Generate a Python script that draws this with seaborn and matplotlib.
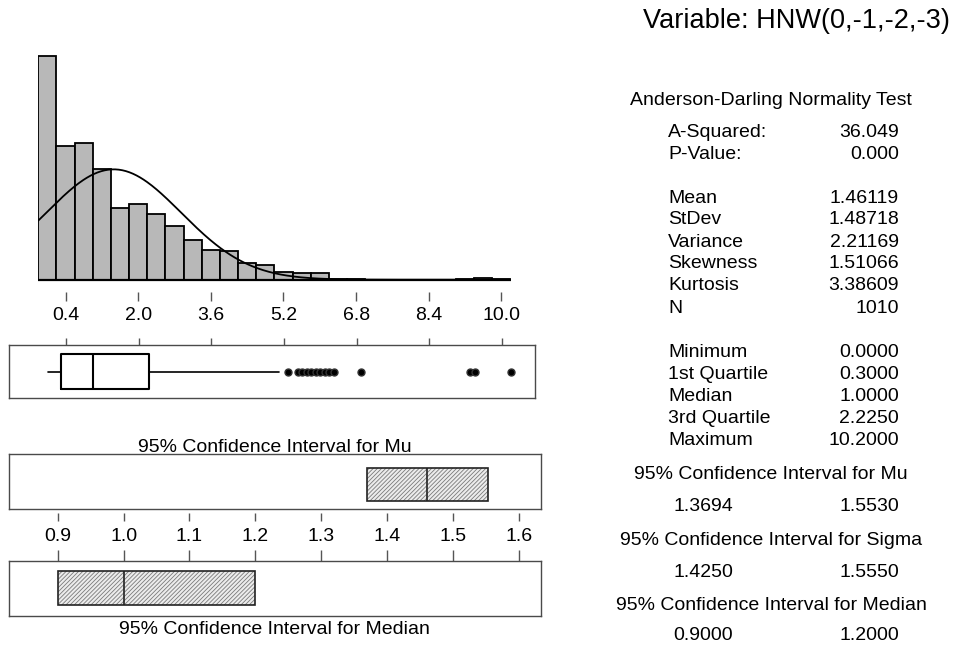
import numpy as np
import pandas as pd
import matplotlib
matplotlib.use("Agg")
import matplotlib.pyplot as plt
import seaborn as sns

# ---------------- data ----------------
bin_centers = [0.0, 0.4, 0.8, 1.2, 1.6, 2.0, 2.4, 2.8, 3.2, 3.6, 4.0, 4.4, 4.8,
               5.2, 5.6, 6.0, 6.4, 6.8, 7.2, 7.6, 8.0, 8.4, 8.8, 9.2, 9.6, 10.0]
bin_counts = [220, 131, 134, 109, 70, 74, 65, 53, 39, 29, 28, 16, 14,
              8, 7, 7, 1, 1, 0, 0, 0, 0, 0, 1, 2, 1]
bin_width = 0.4

n_obs = 1010
mean_val = 1.46119
sd_val = 1.48718

box_min = 0.0
box_q1 = 0.3
box_median = 1.0
box_q3 = 2.225
box_whisker_hi = 5.1
box_outliers = [5.3, 5.5, 5.6, 5.7, 5.8, 5.9, 6.0, 6.1, 6.2, 6.3, 6.9, 9.3, 9.4, 10.2]

scale_ticks = [0.4, 2.0, 3.6, 5.2, 6.8, 8.4, 10.0]
ci_ticks = [0.9, 1.0, 1.1, 1.2, 1.3, 1.4, 1.5, 1.6]

ci_mu = [1.3694, 1.5530]
ci_sigma = [1.4250, 1.5550]
ci_median = [0.9000, 1.2000]

title_text = "Variable: HNW(0,-1,-2,-3)"
test_title = "Anderson-Darling Normality Test"
stat_labels = ["A-Squared:", "P-Value:", "Mean", "StDev", "Variance", "Skewness",
               "Kurtosis", "N", "Minimum", "1st Quartile", "Median", "3rd Quartile",
               "Maximum"]
stat_values = ["36.049", "0.000", "1.46119", "1.48718", "2.21169", "1.51066",
               "3.38609", "1010", "0.0000", "0.3000", "1.0000", "2.2250", "10.2000"]

# ---------------- style ----------------
sns.set_style("white")
plt.rcParams["font.family"] = ["Liberation Sans", "DejaVu Sans"]
plt.rcParams["hatch.linewidth"] = 0.6
plt.rcParams["text.color"] = "black"
plt.rcParams["xtick.labelcolor"] = "black"

W, H = 963, 647
fig = plt.figure(figsize=(W / 100, H / 100), dpi=100)


def px_axes(x0, y0, x1, y1):
    """Axes from pixel box (left, top, right, bottom)."""
    return fig.add_axes([x0 / W, 1 - y1 / H, (x1 - x0) / W, (y1 - y0) / H])


def px_text(x, y, s, **kw):
    fig.text(x / W, 1 - y / H, s, color="black", **kw)


frame_color = "#4a4a4a"
tick_color = "#555555"
FS = 14

# ---------------- histogram ----------------
ax_h = px_axes(38.3, 50.0, 511.4, 291.7)
hist_df = pd.DataFrame({"value": bin_centers, "count": bin_counts})
sns.histplot(data=hist_df, x="value", weights="count", binwidth=bin_width,
             binrange=(-0.2, 10.2), ax=ax_h,
             color="#b8b8b8", edgecolor="black", linewidth=1.3, alpha=1.0)

xs = np.linspace(-0.2, 10.2, 400)
pdf = n_obs * bin_width * np.exp(-0.5 * ((xs - mean_val) / sd_val) ** 2) / (sd_val * np.sqrt(2 * np.pi))
sns.lineplot(x=xs, y=pdf, ax=ax_h, color="black", linewidth=1.3)
ax_h.axhline(0, color="black", linewidth=1.6)
ax_h.set_xlim(-0.2, 10.22)
ax_h.set_ylim(-11.8, 225.6)
ax_h.set_xlabel("")
ax_h.set_ylabel("")
ax_h.set_yticks([])
for s in ax_h.spines.values():
    s.set_visible(False)
ax_h.set_xticks(scale_ticks)
ax_h.tick_params(axis="x", bottom=True, direction="out", length=6.5, width=1,
                 color=tick_color, labelbottom=False)

# ---------------- boxplot ----------------
ax_b = px_axes(9.3, 345.0, 535.0, 398.3)
stats = [dict(whislo=box_min, q1=box_q1, med=box_median, q3=box_q3,
              whishi=box_whisker_hi, fliers=box_outliers)]
ax_b.bxp(stats, positions=[0.5], widths=[0.644], orientation="horizontal",
         showcaps=False, patch_artist=False,
         boxprops=dict(color="black", linewidth=1.5),
         medianprops=dict(color="black", linewidth=1.5),
         whiskerprops=dict(color="black", linewidth=1.2),
         flierprops=dict(marker="o", markerfacecolor="black", markeredgecolor="#333333",
                         markersize=5, linestyle="none"))
ax_b.set_xlim(-0.848, 10.731)
ax_b.set_ylim(0, 1)
ax_b.set_yticks([])
for s in ax_b.spines.values():
    s.set_color(frame_color)
    s.set_linewidth(1.0)
ax_b.set_xticks(scale_ticks)
ax_b.set_xticklabels([f"{t:.1f}" for t in scale_ticks])
ax_b.tick_params(axis="x", bottom=False, labelbottom=False, top=True, labeltop=True,
                 direction="out", length=5, width=1, color=tick_color,
                 labelsize=FS, labelcolor="black", pad=10)

# ---------------- confidence intervals ----------------
ci_xlim = (0.8266, 1.633)

ax_mu = px_axes(9.3, 454.0, 540.7, 509.3)
ax_md = px_axes(9.3, 560.7, 540.7, 615.7)


def ci_box(ax, lo, hi, center, yc, h):
    ax.barh([yc], [hi - lo], left=[lo], height=h, color="#ececec",
            edgecolor="#7a7a7a", hatch="////////", linewidth=0)
    ax.barh([yc], [hi - lo], left=[lo], height=h, fill=False,
            edgecolor="#222222", linewidth=1.2)
    ax.vlines([center], yc - h / 2, yc + h / 2, color="#222222", linewidth=1.2)


ci_box(ax_mu, ci_mu[0], ci_mu[1], mean_val, 0.448, 0.597)
ci_box(ax_md, ci_median[0], ci_median[1], box_median, 0.504, 0.618)

for ax in (ax_mu, ax_md):
    ax.set_xlim(*ci_xlim)
    ax.set_ylim(0, 1)
    ax.set_yticks([])
    for s in ax.spines.values():
        s.set_color(frame_color)
        s.set_linewidth(1.0)

ax_mu.set_xticks([])
ax_md.set_xticks(ci_ticks)
ax_md.set_xticklabels([f"{t:.1f}" for t in ci_ticks])
ax_md.tick_params(axis="x", bottom=False, labelbottom=False, top=True, labeltop=True,
                  direction="out", length=7.7, width=1, color=tick_color,
                  labelsize=FS, labelcolor="black", pad=3.5)

sec = ax_md.secondary_xaxis(1.727)
sec.set_xticks(ci_ticks)
sec.tick_params(axis="x", direction="out", length=5.8, width=1, color=tick_color,
                labeltop=False, labelbottom=False)
for s in sec.spines.values():
    s.set_visible(False)

px_text(275, 445 + 7, "95% Confidence Interval for Mu", ha="center", va="baseline", fontsize=FS)
px_text(274, 627 + 7, "95% Confidence Interval for Median", ha="center", va="baseline", fontsize=FS)

# ---------------- summary text ----------------
px_text(643, 18 + 9.5, title_text, ha="left", va="baseline", fontsize=19.5)
px_text(771, 98.3 + 7, test_title, ha="center", va="baseline", fontsize=FS)

stat_y = [130, 151.7, 196, 217.3, 240, 261, 283.3, 306, 350, 371.7, 394.3, 416, 438.3]
for lab, val, y in zip(stat_labels, stat_values, stat_y):
    px_text(668, y + 7, lab, ha="left", va="baseline", fontsize=FS)
    px_text(899, y + 7, val, ha="right", va="baseline", fontsize=FS)

ci_sections = [("95% Confidence Interval for Mu", ci_mu, 471.7, 504.3),
               ("95% Confidence Interval for Sigma", ci_sigma, 538.3, 570.0),
               ("95% Confidence Interval for Median", ci_median, 603.3, 633.0)]
for head, (lo, hi), yh, yv in ci_sections:
    px_text(771, yh + 7, head, ha="center", va="baseline", fontsize=FS)
    px_text(673, yv + 7, f"{lo:.4f}", ha="left", va="baseline", fontsize=FS)
    px_text(899, yv + 7, f"{hi:.4f}", ha="right", va="baseline", fontsize=FS)

fig.savefig("out.png", dpi=100)
